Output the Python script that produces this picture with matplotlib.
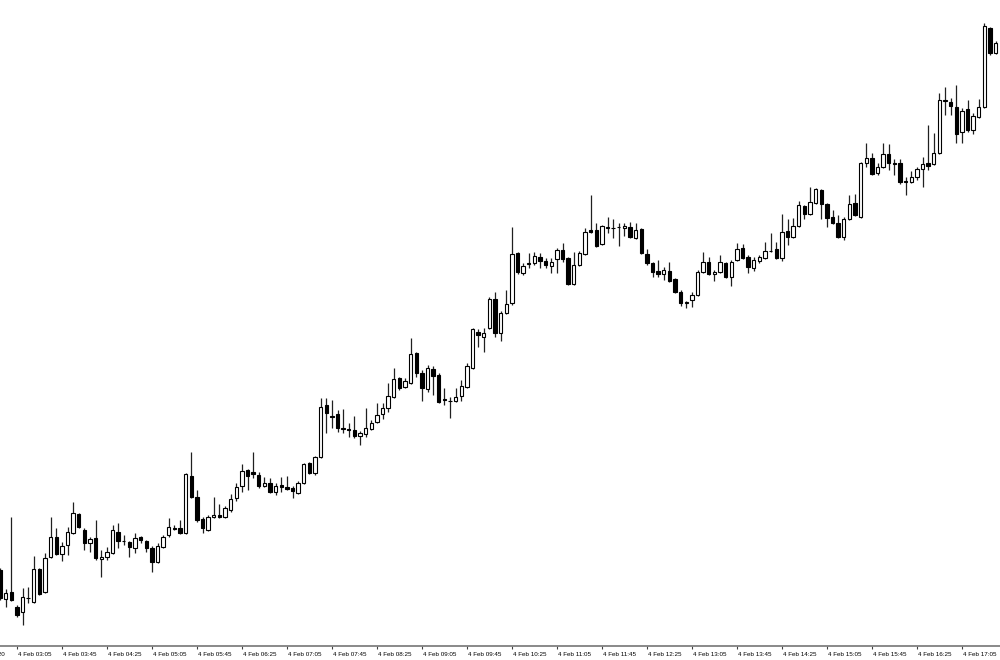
import matplotlib
matplotlib.use('Agg')
import matplotlib.pyplot as plt
import matplotlib.transforms as mtransforms
from matplotlib import font_manager
import numpy as np

# 5-minute candles, 4 Feb 02:50 -> 17:35 (prices in points)
opens = [130, 101, 108, 93, 88, 102, 98, 131, 108, 143,
         163, 146, 155, 167, 186, 170, 157, 162, 141, 143,
         147, 168, 159.5, 158, 152, 163, 159, 152, 138, 153,
         165, 172.5, 172, 167, 224, 203, 181, 170, 183, 185,
         183, 190, 202, 214, 230, 228, 225, 214, 217, 208,
         215, 213, 212, 207, 217, 237, 227, 243, 295, 284.5,
         286, 272.5, 271, 270, 264, 266, 271, 278, 286, 292,
         303, 322, 313, 317, 347, 327, 311, 331, 325, 301.5,
         299.5, 299, 304, 313, 332, 368, 363, 372, 401, 367,
         387, 397, 447, 427, 436.5, 437, 443, 439, 434, 441,
         450, 442, 416, 435, 446, 470, 470, 456, 472.5, 472.5,
         473, 472, 473, 462, 471, 446, 437, 429, 426, 429,
         421, 408, 397.5, 400, 405, 428, 438, 426, 428, 437,
         423, 440, 452, 443, 432, 439, 442, 449.5, 451, 442,
         469, 463, 474, 494, 486, 497, 510, 496, 483, 477,
         463, 481, 497, 483, 537, 542, 527, 533, 546, 537.5,
         537, 519, 518, 523, 531, 537, 536, 547, 599, 598,
         593, 568, 591, 570, 583, 593, 672, 647]
highs = [132, 111, 183, 95, 112, 113, 144, 132, 147, 183,
         172, 158, 173, 198, 187, 172, 163, 180, 150, 153,
         175, 177, 165, 159, 167, 164, 160, 154, 157, 165,
         182, 175, 180, 227, 248, 210, 183, 185, 203, 196,
         194, 206, 217, 236, 231, 248, 228, 223, 222, 217,
         223, 224, 214, 219, 237, 238, 244, 302, 302, 300,
         290, 291, 277, 284, 269, 292, 280, 297, 297, 317,
         332, 323, 322, 362, 348, 330, 335, 334, 327, 312,
         303, 312, 320, 337, 372, 371, 372, 403, 408, 389,
         410, 473, 448, 437, 447, 448, 447, 442, 442, 452,
         457, 443, 448, 449, 472, 505, 477, 475, 483, 481,
         477, 477, 478, 477, 472, 451, 438, 440, 433, 438,
         422, 410, 399, 408, 430, 448, 443, 430, 445, 438,
         440, 457, 456, 445, 443, 445, 458, 467, 458, 486,
         481, 482, 499, 495, 513, 512, 511, 497, 490, 485,
         483, 505, 506, 538, 557, 547, 537, 557, 556, 541,
         541, 523, 529, 533, 543, 575, 567, 607, 613, 602,
         615, 592, 600, 587, 601, 677, 673, 659]
lows = [100, 93, 99, 83, 75, 97, 97, 105, 107, 142,
        145, 139, 145, 166, 172, 150, 148, 140, 123, 140,
        146, 152, 155, 143, 147, 157, 148, 128, 137, 152,
        163, 170, 166, 166, 202, 178, 167, 169, 182, 182,
        182, 188, 199, 208, 210, 222, 212, 213, 207, 205,
        208, 210, 202, 206, 216, 226, 225, 242, 267, 272,
        268, 267, 263, 262, 255, 263, 270, 277, 281, 288,
        302, 310, 312, 316, 323, 299, 308, 305, 297, 295,
        282, 298, 299, 312, 331, 353, 348, 371, 363, 359,
        386, 395, 426, 425, 432, 435, 432, 432, 427, 427,
        438, 415, 415, 434, 445, 467, 453, 455, 467, 462,
        454, 464, 462, 461, 446, 435, 423, 423, 420, 418,
        407, 394, 392, 393, 404, 427, 425, 419, 427, 422,
        414, 439, 441, 427, 429, 437, 441, 448, 441, 439,
        455, 462, 473, 481, 485, 496, 481, 473, 476, 462,
        460, 480, 484, 482, 533, 525, 525, 532, 530, 525,
        516, 505, 517, 520, 513, 530, 535, 546, 585, 585,
        557, 557, 568, 566, 582, 592, 645, 646]
closes = [102, 107, 100, 85, 103, 102.5, 131, 106, 142, 163,
          146, 154, 168, 187, 173, 157, 161, 142, 143, 148,
          170, 159, 159, 153, 162, 160, 152, 138, 154, 163,
          173, 171.5, 167, 226, 203, 180, 172, 183, 185, 183,
          192, 201, 213, 229, 224, 226, 214, 217, 208, 214,
          213, 211, 209, 217, 236, 227, 243, 293, 287, 283.5,
          272, 271.5, 270, 264, 267, 272, 277, 285, 292, 304,
          321, 312, 319, 346, 327, 312, 332, 324, 298, 300.5,
          298.7, 303, 314, 334, 371, 365, 367, 401, 367, 387,
          396, 446, 428, 434, 437, 444, 439, 435, 438, 450,
          441, 416, 435, 447, 468, 468, 454, 474, 473, 472,
          473.5, 474, 463, 470, 447, 437, 428, 426, 430, 419,
          408, 397, 398, 405, 428, 438, 426, 428, 438, 423,
          438, 451, 442, 433, 440, 443, 449, 449, 442, 468,
          463, 474, 495, 486, 498, 511, 496, 482, 477, 463,
          481, 496, 485, 537, 542, 526, 533, 546, 537, 536.5,
          518, 518.5, 523, 531, 536, 534, 547, 600, 600, 594,
          566, 589, 570, 584, 593, 674, 647, 657]

tick_labels = ['4 Feb 03:05', '4 Feb 03:45', '4 Feb 04:25', '4 Feb 05:05',
               '4 Feb 05:45', '4 Feb 06:25', '4 Feb 07:05', '4 Feb 07:45',
               '4 Feb 08:25', '4 Feb 09:05', '4 Feb 09:45', '4 Feb 10:25',
               '4 Feb 11:05', '4 Feb 11:45', '4 Feb 12:25', '4 Feb 13:05',
               '4 Feb 13:45', '4 Feb 14:25', '4 Feb 15:05', '4 Feb 15:45',
               '4 Feb 16:25', '4 Feb 17:05']
cut_label = '4 Feb 2020'   # date label, mostly off the left edge

o = np.array(opens, dtype=float)
h = np.array(highs, dtype=float)
l = np.array(lows, dtype=float)
c = np.array(closes, dtype=float)
x = np.arange(len(o))
up = c >= o

fig = plt.figure(figsize=(10, 6.6), dpi=100)
ax = fig.add_axes([0, 14 / 660, 1, 646 / 660])

# wicks then bodies
ax.vlines(x, l, h, color='#202020', linewidth=0.9, zorder=1)
body_bottom = np.minimum(o, c)
body_height = np.abs(c - o)
ax.bar(x[up], body_height[up], bottom=body_bottom[up], width=0.6,
       facecolor='white', edgecolor='black', linewidth=0.8, zorder=2)
ax.bar(x[~up], body_height[~up], bottom=body_bottom[~up], width=0.6,
       facecolor='black', edgecolor='black', linewidth=0.8, zorder=2)

ax.set_xlim(0, 1000 / 5.625)
ax.set_ylim(54, 700)
ax.set_yticks([])
for side in ['top', 'left', 'right']:
    ax.spines[side].set_visible(False)
ax.spines['bottom'].set_color('#808080')
ax.spines['bottom'].set_linewidth(1.3)

# ticks every 8 bars (40 min), first at bar 3
tick_pos = [3 + 8 * k for k in range(len(tick_labels))]
ax.set_xticks(tick_pos)
ax.tick_params(axis='x', direction='out', length=2.5, width=0.8,
               color='#404040', labelbottom=False)

available = {f.name for f in font_manager.fontManager.ttflist}
if 'Liberation Sans Narrow' in available:
    lab_font, lab_size = 'Liberation Sans Narrow', 5.0
else:
    lab_font, lab_size = 'Liberation Sans', 4.5

trans = mtransforms.blended_transform_factory(ax.transData, fig.transFigure)
for pos, lab in zip([-5] + tick_pos, [cut_label] + tick_labels):
    ax.text(pos + 0.2, 4 / 660, lab, transform=trans, ha='left', va='baseline',
            fontsize=lab_size, family=lab_font, color='black', clip_on=False)

fig.savefig('out.png', dpi=100, facecolor='white')
